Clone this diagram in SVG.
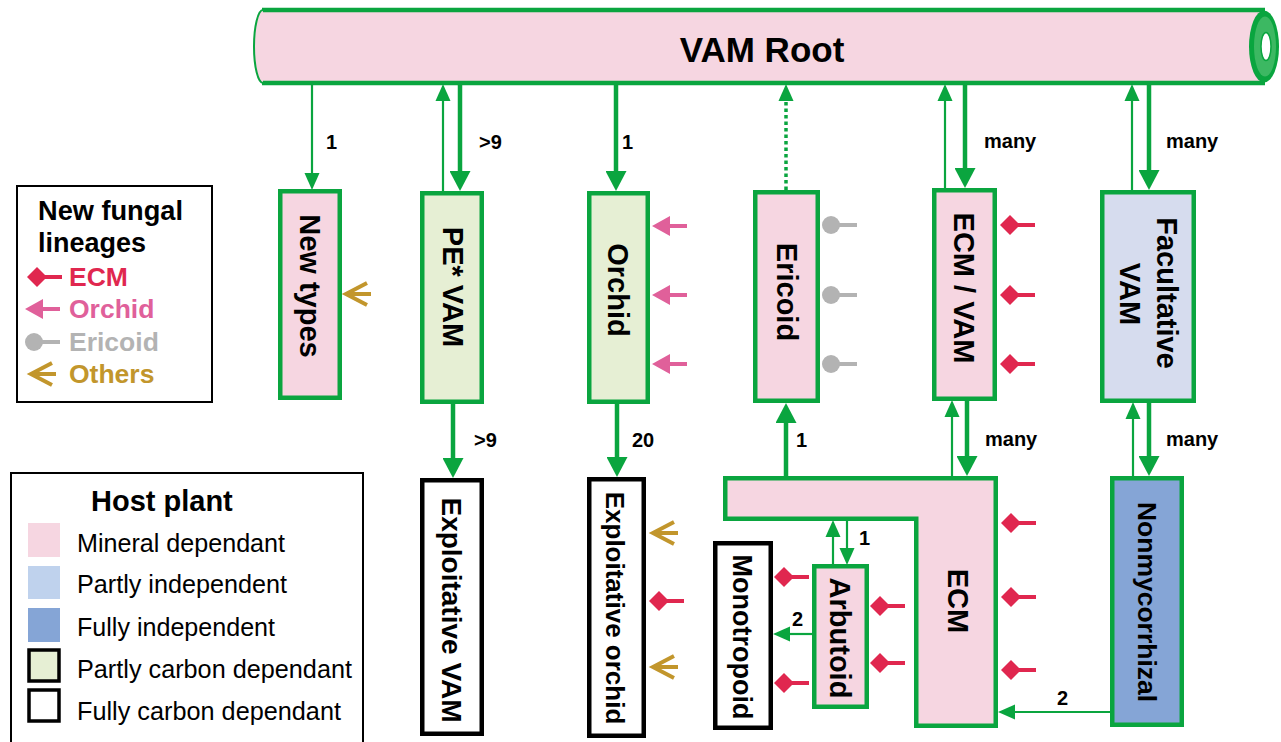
<svg xmlns="http://www.w3.org/2000/svg" width="1281" height="742" viewBox="0 0 1281 742">
<style>
.box{stroke:#0aa53f;stroke-width:4.5}
.bbox{stroke:#000;stroke-width:4.5;fill:#fff}
.pink{fill:#f6d6e1}
.lgreen{fill:#e6efd4}
.lav{fill:#d6dcee}
.blue{fill:#85a5d6}
.bl{font-family:"Liberation Sans",Arial,sans-serif;font-weight:bold;fill:#000}
.rot{font-family:"Liberation Sans",Arial,sans-serif;font-weight:bold;font-size:29px;text-anchor:middle;fill:#000}
.num{font-family:"Liberation Sans",Arial,sans-serif;font-weight:bold;font-size:20px;fill:#000}
.leg{font-family:"Liberation Sans",Arial,sans-serif;font-size:25.5px;fill:#000}
.thick{stroke:#0aa53f;stroke-width:4.5;fill:none;marker-end:url(#hThick)}
.thin{stroke:#0aa53f;stroke-width:2.2;fill:none;marker-end:url(#hThin)}
.dot{stroke:#0aa53f;stroke-width:3.5;fill:none;stroke-dasharray:3.5 3;marker-end:url(#hThin)}
</style>
<defs>
<marker id="hThick" markerUnits="userSpaceOnUse" markerWidth="21" markerHeight="21" refX="10" refY="10.5" orient="auto">
<path d="M0,0 L20,10.5 L0,21 Z" fill="#0aa53f"/>
</marker>
<marker id="hThin" markerUnits="userSpaceOnUse" markerWidth="18" markerHeight="16" refX="8" refY="8" orient="auto">
<path d="M0,0.5 L17,8 L0,15.5 Z" fill="#0aa53f"/>
</marker>
<g id="mECM"><path d="M0,0 L10,-10 L20,0 L10,10 Z" fill="#e0274f"/><path d="M17,0 H35" stroke="#e0274f" stroke-width="4"/></g>
<g id="mOrchid"><path d="M0,0 L18,-10 L18,10 Z" fill="#e0609a"/><path d="M16,0 H35" stroke="#e0609a" stroke-width="4"/></g>
<g id="mEric"><circle cx="9" cy="0" r="9" fill="#b3b3b3"/><path d="M15,0 H35" stroke="#b3b3b3" stroke-width="4"/></g>
<g id="mOther"><path d="M24,-11 L3,0 L24,11 M3,0 H28" stroke="#c2962c" stroke-width="4" fill="none"/></g>
</defs>

<g id="vam-root">
<rect x="262" y="10" width="1003" height="73" class="pink"/>
<path d="M262,10 H1265 M262,83 H1265" stroke="#0aa53f" stroke-width="4.5" fill="none"/>
<path d="M263,10 A9,36.5 0 0 0 263,83" class="pink" stroke="#0aa53f" stroke-width="2"/>
<ellipse cx="1264" cy="46.5" rx="15" ry="36" fill="#0aa53f"/>
<ellipse cx="1265" cy="46.5" rx="11" ry="30" fill="#3cb862"/>
<ellipse cx="1266" cy="46.5" rx="5" ry="14" fill="#fff" stroke="#0aa53f" stroke-width="1.5"/>
<text x="762" y="62" class="bl" font-size="35" text-anchor="middle">VAM Root</text>
</g>

<g id="new-types">
<rect x="280.25" y="191.25" width="59.5" height="206.5" class="box pink"/>
<text class="rot" transform="translate(299.5,286) rotate(90)">New types</text>
<use href="#mOther" x="343" y="294"/>
</g>

<g id="pe-vam">
<rect x="422.25" y="193.25" width="59.5" height="208.5" class="box lgreen"/>
<text class="rot" transform="translate(443,287) rotate(90)">PE* VAM</text>
</g>

<g id="orchid">
<rect x="589.25" y="193.25" width="58.5" height="208.5" class="box lgreen"/>
<text class="rot" transform="translate(608,290) rotate(90)">Orchid</text>
<use href="#mOrchid" x="652" y="226"/>
<use href="#mOrchid" x="652" y="295"/>
<use href="#mOrchid" x="652" y="364"/>
</g>

<g id="ericoid">
<rect x="755.25" y="192.25" width="62.5" height="208.5" class="box pink"/>
<text class="rot" transform="translate(777,292) rotate(90)">Ericoid</text>
<use href="#mEric" x="822" y="225"/>
<use href="#mEric" x="822" y="295"/>
<use href="#mEric" x="822" y="364"/>
</g>

<g id="ecm-vam">
<rect x="934.25" y="190.25" width="60.5" height="208.5" class="box pink"/>
<text class="rot" transform="translate(953.5,288) rotate(90)">ECM / VAM</text>
<use href="#mECM" x="1000" y="225"/>
<use href="#mECM" x="1000" y="295"/>
<use href="#mECM" x="1000" y="364"/>
</g>

<g id="facultative-vam">
<rect x="1102.25" y="192.25" width="91.5" height="208.5" class="box lav"/>
<text class="rot" transform="translate(1157,293) rotate(90)">Facultative</text>
<text class="rot" transform="translate(1120,294) rotate(90)">VAM</text>
</g>

<g id="exploitative-vam">
<rect x="422.25" y="480.25" width="59.5" height="253.5" class="bbox"/>
<text class="rot" style="font-size:28px" transform="translate(442,610) rotate(90)">Exploitative VAM</text>
</g>

<g id="exploitative-orchid">
<rect x="589.25" y="479.25" width="54.5" height="256.5" class="bbox"/>
<text class="rot" style="font-size:26px" transform="translate(606,608) rotate(90)">Exploitative orchid</text>
<use href="#mOther" x="650" y="533"/>
<use href="#mECM" x="649" y="601"/>
<use href="#mOther" x="650" y="667"/>
</g>

<g id="ecm">
<path d="M725.25,478.25 H995.75 V725.75 H916.25 V518.75 H725.25 Z" class="box pink"/>
<text class="rot" transform="translate(948,601) rotate(90)">ECM</text>
<use href="#mECM" x="1001" y="523"/>
<use href="#mECM" x="1001" y="597"/>
<use href="#mECM" x="1001" y="670"/>
</g>

<g id="arbutoid">
<rect x="814.25" y="566.25" width="52.5" height="140.5" class="box pink"/>
<text class="rot" transform="translate(830,638) rotate(90)">Arbutoid</text>
<use href="#mECM" x="870" y="606"/>
<use href="#mECM" x="870" y="663"/>
<use href="#mECM" x="774" y="577"/>
<use href="#mECM" x="774" y="683"/>
</g>

<g id="monotropoid">
<rect x="715.25" y="543.25" width="55.5" height="184.5" class="bbox"/>
<text class="rot" style="font-size:27px" transform="translate(733,637) rotate(90)">Monotropoid</text>
</g>

<g id="nonmycorrhizal">
<rect x="1112.25" y="478.25" width="69.5" height="246.5" class="box blue"/>
<text class="rot" style="font-size:26.5px" transform="translate(1138,602) rotate(90)">Nonmycorrhizal</text>
</g>

<g id="connectors">
<line x1="312" y1="84" x2="312" y2="181" class="thin"/>
<line x1="443" y1="191" x2="443" y2="93" class="thin"/>
<line x1="460" y1="84" x2="460" y2="181" class="thick"/>
<line x1="616" y1="84" x2="616" y2="181" class="thick"/>
<line x1="786" y1="190" x2="786" y2="93" class="dot"/>
<line x1="945" y1="188" x2="945" y2="93" class="thin"/>
<line x1="965" y1="84" x2="965" y2="178" class="thick"/>
<line x1="1132" y1="190" x2="1132" y2="93" class="thin"/>
<line x1="1149" y1="84" x2="1149" y2="180" class="thick"/>

<line x1="453" y1="403" x2="453" y2="468" class="thick"/>
<line x1="617" y1="403" x2="617" y2="467" class="thick"/>
<line x1="786" y1="477" x2="786" y2="413" class="thick"/>
<line x1="952" y1="477" x2="952" y2="409" class="thin"/>
<line x1="967" y1="400" x2="967" y2="466" class="thick"/>
<line x1="1133" y1="477" x2="1133" y2="411" class="thin"/>
<line x1="1149" y1="402" x2="1149" y2="466" class="thick"/>

<line x1="833" y1="565" x2="833" y2="529" class="thin"/>
<line x1="847" y1="520" x2="847" y2="556" class="thin" stroke-width="2.6"/>
<line x1="812" y1="634" x2="782" y2="634" class="thin"/>
<line x1="1111" y1="712" x2="1007" y2="712" class="thin"/>

<text x="326" y="149" class="num">1</text>
<text x="479" y="149" class="num">&gt;9</text>
<text x="622" y="149" class="num">1</text>
<text x="984" y="148" class="num">many</text>
<text x="1166" y="148" class="num">many</text>
<text x="474" y="447" class="num">&gt;9</text>
<text x="632" y="447" class="num">20</text>
<text x="796" y="447" class="num">1</text>
<text x="985" y="446" class="num">many</text>
<text x="1166" y="446" class="num">many</text>
<text x="859" y="545" class="num">1</text>
<text x="792" y="626" class="num">2</text>
<text x="1057" y="705" class="num">2</text>
</g>

<g id="legend-fungal">
<rect x="17" y="186" width="195" height="216" fill="#fff" stroke="#000" stroke-width="2"/>
<text x="38" y="220" class="bl" font-size="27" textLength="145" lengthAdjust="spacingAndGlyphs">New fungal</text>
<text x="38" y="252" class="bl" font-size="27" textLength="108" lengthAdjust="spacingAndGlyphs">lineages</text>
<use href="#mECM" x="27" y="277"/>
<text x="69" y="286" class="bl" font-size="26.5" style="fill:#e0274f">ECM</text>
<use href="#mOrchid" x="25" y="309"/>
<text x="69" y="318" class="bl" font-size="26.5" style="fill:#e0609a">Orchid</text>
<use href="#mEric" x="25" y="342"/>
<text x="69" y="351" class="bl" font-size="26.5" style="fill:#b3b3b3">Ericoid</text>
<use href="#mOther" x="28" y="374"/>
<text x="69" y="383" class="bl" font-size="26.5" style="fill:#c2962c">Others</text>
</g>

<g id="legend-host">
<rect x="11" y="473" width="352" height="290" fill="#fff" stroke="#000" stroke-width="2"/>
<text x="91" y="511" class="bl" font-size="29">Host plant</text>
<rect x="28" y="523" width="32" height="34" class="pink"/>
<text x="77" y="552" class="leg" textLength="208" lengthAdjust="spacingAndGlyphs">Mineral dependant</text>
<rect x="28" y="566" width="32" height="33" fill="#bfd2ed"/>
<text x="77" y="593" class="leg" textLength="210" lengthAdjust="spacingAndGlyphs">Partly independent</text>
<rect x="28" y="608" width="32" height="34" class="blue"/>
<text x="77" y="636" class="leg" textLength="198" lengthAdjust="spacingAndGlyphs">Fully independent</text>
<rect x="29" y="650" width="30" height="31" class="lgreen" stroke="#000" stroke-width="3.5"/>
<text x="77" y="678" class="leg" textLength="275" lengthAdjust="spacingAndGlyphs">Partly carbon dependant</text>
<rect x="29" y="690" width="30" height="31" fill="#fff" stroke="#000" stroke-width="3.5"/>
<text x="77" y="720" class="leg" textLength="264" lengthAdjust="spacingAndGlyphs">Fully carbon dependant</text>
</g>
</svg>
